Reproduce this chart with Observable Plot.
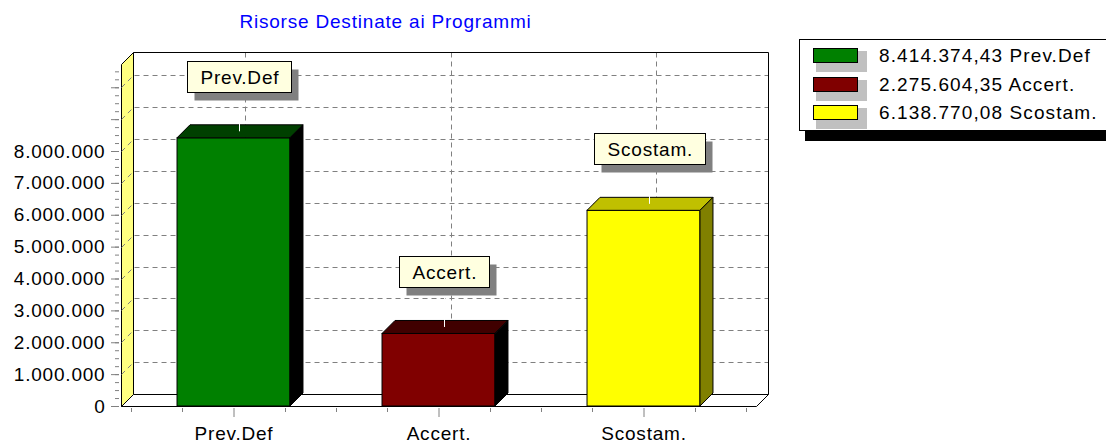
<!DOCTYPE html>
<html>
<head>
<meta charset="utf-8">
<script src="https://cdn.jsdelivr.net/npm/d3@7"></script>
<script src="https://cdn.jsdelivr.net/npm/@observablehq/plot@0.6"></script>
<style>
html, body { margin: 0; padding: 0; background: #fff; overflow: hidden; }
#wrap { position: relative; width: 1106px; height: 443px; overflow: hidden; font-family: "Liberation Sans", Arial, sans-serif; }
#wrap svg text { letter-spacing: 0.8px; }
#title { position: absolute; left: 0; width: 771px; top: 12px; text-align: center; color: #0000ff; font-size: 19px; line-height: 19px; letter-spacing: 0.8px; white-space: nowrap; }
#legend { position: absolute; left: 799px; top: 39px; width: 330px; height: 92px; box-sizing: border-box; border: 1px solid #000; background: #fff; box-shadow: 6px 10px 0 #000; }
.sw { position: absolute; left: 13px; width: 45px; height: 15px; box-sizing: border-box; border: 1px solid #000; box-shadow: 6px 6px 0 3px #c0c0c0; }
.lt { position: absolute; left: 79px; font-size: 19px; line-height: 19px; letter-spacing: 1.1px; white-space: nowrap; color: #000; }
</style>
</head>
<body>
<div id="wrap">
  <div id="chart"></div>
  <div id="title"></div>
  <div id="legend"></div>
</div>
<script>
// ---- data ----
const categories = ["Prev.Def", "Accert.", "Scostam."];
const values = [8414374.43, 2275604.35, 6138770.08];
const frontColors = ["#008000", "#800000", "#ffff00"];
const topColors = ["#004000", "#400000", "#c0c000"];
const sideColors = ["#000000", "#000000", "#808000"];
const yTicks = [0, 1000000, 2000000, 3000000, 4000000, 5000000, 6000000, 7000000, 8000000];
const yMajorTicks = [0, 1000000, 2000000, 3000000, 4000000, 5000000, 6000000, 7000000, 8000000, 9000000, 10000000];
const gridValues = [1000000, 2000000, 3000000, 4000000, 5000000, 6000000, 7000000, 8000000, 9000000, 10000000];
const yMax = 10730000;
const titleText = "Risorse Destinate ai Programmi";

const data = categories.map((c, i) => ({cat: c, value: values[i]}));

const it = d3.formatLocale({decimal: ",", thousands: ".", grouping: [3], currency: ["", " €"]});
const fmtInt = it.format(",d");
const fmtDec = it.format(",.2f");

const FONT = "19px 'Liberation Sans', Arial, sans-serif";
const LS = 0.8;
const WALL = 12, BAR = 13;
const GRID = "#808080";
const px = (v) => Math.round(v) + 0.5;

function band(scales) {
  const x = scales.x;
  let b = typeof x.bandwidth === "function" ? x.bandwidth() : x.bandwidth;
  let s = typeof x.step === "function" ? x.step() : x.step;
  if ((b == null || s == null) && scales.scales && scales.scales.x) {
    b = scales.scales.x.bandwidth; s = scales.scales.x.step;
  }
  return {b, s};
}
const ctx = document.createElement("canvas").getContext("2d");
ctx.font = FONT;
function textWidth(t) { return ctx.measureText(t).width + LS * t.length; }

// back walls, floor and grid
function walls(index, scales, values_, dims) {
  const {x, y} = scales;
  const g = d3.create("svg:g");
  const xl = px(dims.marginLeft), xr = px(dims.width - dims.marginRight);
  const y0 = px(y(0)), yt = px(y(yMax));
  const D = WALL;
  g.append("path")
    .attr("d", `M${xl},${y0}L${xl},${yt}L${xl + D},${yt - D}L${xl + D},${y0 - D}Z`)
    .attr("fill", "#ffff80").attr("stroke", "#000");
  g.append("path")
    .attr("d", `M${xl},${y0}L${xr},${y0}L${xr + D},${y0 - D}L${xl + D},${y0 - D}Z`)
    .attr("fill", "#fff").attr("stroke", "#000");
  for (const v of gridValues) {
    const yy = px(y(v));
    g.append("path")
      .attr("d", `M${xl},${yy}L${xl + D},${yy - D}L${xr + D},${yy - D}`)
      .attr("fill", "none").attr("stroke", GRID).attr("stroke-dasharray", "5,4");
  }
  const {b} = band(scales);
  for (const c of categories) {
    const cx = px(x(c) + b / 2 + D);
    g.append("line").attr("x1", cx).attr("x2", cx).attr("y1", yt - D).attr("y2", y0 - D)
      .attr("stroke", GRID).attr("stroke-dasharray", "5,4");
  }
  g.append("path")
    .attr("d", `M${xl + D},${yt - D}L${xr + D},${yt - D}L${xr + D},${y0 - D}`)
    .attr("fill", "none").attr("stroke", "#000");
  return g.node();
}

// top and side faces of the bars
function faces(index, scales) {
  const {x, y} = scales;
  const {b} = band(scales);
  const g = d3.create("svg:g");
  const y0 = y(0), d = BAR;
  categories.forEach((c, i) => {
    const x0 = x(c), x1 = x0 + b, yt = y(values[i]);
    g.append("path")
      .attr("d", `M${x0},${yt}L${x1},${yt}L${x1 + d},${yt - d}L${x0 + d},${yt - d}Z`)
      .attr("fill", topColors[i]).attr("stroke", "#000");
    g.append("path")
      .attr("d", `M${x1},${yt}L${x1 + d},${yt - d}L${x1 + d},${y0 - d}L${x1},${y0}Z`)
      .attr("fill", sideColors[i]).attr("stroke", "#000");
  });
  return g.node();
}

// callout labels
function callouts(index, scales) {
  const {x, y} = scales;
  const {b} = band(scales);
  const g = d3.create("svg:g");
  categories.forEach((c, i) => {
    const cx = x(c) + b / 2 + 5.5;
    const yt = y(values[i]);
    const bottom = Math.round(yt - 46), h = 31, top = bottom - h;
    const w = Math.round(textWidth(c) + 25);
    const lx = Math.round(cx - w / 2) + 0.5;
    g.append("line").attr("x1", px(cx)).attr("x2", px(cx)).attr("y1", yt - 6.5).attr("y2", bottom)
      .attr("stroke", "#fff").attr("stroke-width", 1);
    g.append("rect").attr("x", lx + 7).attr("y", top + 8.5).attr("width", w).attr("height", h)
      .attr("fill", "#808080");
    g.append("rect").attr("x", lx).attr("y", top + 0.5).attr("width", w).attr("height", h)
      .attr("fill", "#ffffe0").attr("stroke", "#000");
    g.append("text").attr("x", lx + w / 2 + LS / 2).attr("y", top + 16).attr("dy", "0.35em")
      .attr("text-anchor", "middle").attr("font-size", 19).attr("fill", "#000").text(c);
  });
  return g.node();
}

// quarter ticks along the category axis
function quarterTicks(index, scales, v, dims) {
  const {x} = scales;
  const {b, s} = band(scales);
  const g = d3.create("svg:g");
  const yb = dims.height - dims.marginBottom;
  categories.forEach((c) => {
    const cx = x(c) + b / 2;
    for (const k of [-2, -1, 1, 2]) {
      const xx = px(cx + k * s / 4);
      g.append("line").attr("x1", xx).attr("x2", xx).attr("y1", yb + 2).attr("y2", yb + 6)
        .attr("stroke", GRID);
    }
  });
  return g.node();
}

const chart = Plot.plot({
  width: 1106,
  height: 443,
  marginLeft: 121,
  marginRight: 350,
  marginTop: 64,
  marginBottom: 37,
  style: {fontFamily: "'Liberation Sans', Arial, sans-serif", fontSize: "19px", background: "transparent"},
  x: {type: "band", domain: categories, range: [131, 746], paddingInner: 0.449, paddingOuter: 0.2245, align: 0.5, round: false, label: null},
  y: {domain: [0, yMax], range: [406, 64], label: null},
  color: {domain: categories, range: frontColors},
  marks: [
    walls,
    Plot.barY(data, {x: "cat", y: "value", fill: "cat", stroke: "#000", strokeWidth: 1}),
    faces,
    callouts,
    Plot.axisY({ticks: d3.range(0, 10600000, 250000), tickSize: 4, dx: -2, tickFormat: () => "", stroke: GRID, label: null}),
    Plot.axisY({ticks: yMajorTicks, tickSize: 8, dx: -2, tickFormat: () => "", stroke: GRID, label: null}),
    Plot.axisY({ticks: yTicks, tickSize: 0, tickPadding: 16, tickFormat: fmtInt, fontSize: 19, fill: "#000", label: null}),
    quarterTicks,
    Plot.axisX({tickSize: 9, dy: 2, tickPadding: 9, fontSize: 19, stroke: GRID, fill: "#000", label: null})
  ]
});
document.getElementById("chart").appendChild(chart);

// title
document.getElementById("title").textContent = titleText;

// legend
const legend = document.getElementById("legend");
categories.forEach((c, i) => {
  const top = 8 + i * 28.5;
  const sw = document.createElement("div");
  sw.className = "sw";
  sw.style.top = top + "px";
  sw.style.background = frontColors[i];
  legend.appendChild(sw);
  const t = document.createElement("div");
  t.className = "lt";
  t.style.top = (top - 2) + "px";
  t.textContent = fmtDec(values[i]) + " " + c;
  legend.appendChild(t);
});
</script>
</body>
</html>
